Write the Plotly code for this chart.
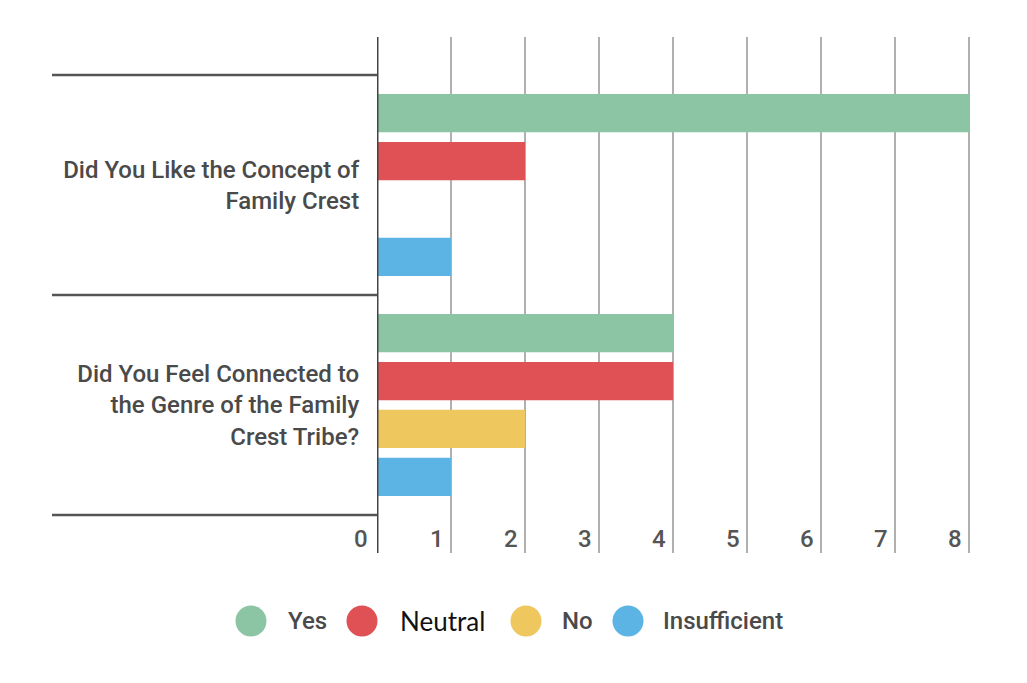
import plotly.graph_objects as go

# ---------------- data ----------------
categories = [
    "Did You Like the Concept of<br>Family Crest",
    "Did You Feel Connected to<br>the Genre of the Family<br>Crest Tribe?",
]
series_names = ["Yes", "Neutral", "No", "Insufficient"]
yes_vals = [8, 4]
neutral_vals = [2, 4]
no_vals = [0, 2]
insufficient_vals = [1, 1]
x_ticks = [0, 1, 2, 3, 4, 5, 6, 7, 8]

# ---------------- style ----------------
colors = ["#8BC5A4", "#DF5154", "#EFC75F", "#5CB4E5"]
values = [yes_vals, neutral_vals, no_vals, insufficient_vals]

W, H = 1027, 683
L, R, T, B = 377, 52, 37, 130
pw, ph = W - L - R, H - T - B

fig = go.Figure()
for name, vals, col in zip(series_names, values, colors):
    fig.add_trace(go.Bar(
        y=categories, x=vals, name=name, orientation="h",
        marker=dict(color=col, line=dict(width=0)),
        showlegend=False, hoverinfo="x+name",
    ))

# y range in category units so that boundaries fall at the separator lines
ext = 38 / 220
fig.update_layout(
    width=W, height=H,
    margin=dict(l=L, r=R, t=T, b=B, pad=0),
    paper_bgcolor="white", plot_bgcolor="white",
    barmode="group", bargap=0.13, bargroupgap=0.2,
    font=dict(family="Roboto", color="#4a4a4a"),
    xaxis=dict(
        range=[0, 8.08], tickvals=x_ticks, showticklabels=False,
        showgrid=True, gridcolor="#b0b0b0", gridwidth=1.5,
        zeroline=False, showline=False, ticks="", fixedrange=True,
    ),
    yaxis=dict(
        range=[1.5 + ext, -0.5 - ext], type="category",
        showgrid=False, zeroline=False,
        showline=False, ticks="outside", ticklen=12, tickcolor="rgba(0,0,0,0)",
        tickfont=dict(size=24, color="#4a4a4a", family="Roboto", weight=500),
        fixedrange=True,
    ),
)

shapes = []
# y-axis line (value 0)
shapes.append(dict(type="line", xref="x", yref="paper", x0=0, x1=0, y0=0, y1=1,
                   line=dict(color="#444444", width=3)))
# category separator lines extending left of the axis
x_left = (52 - L) / pw
for b in [-0.5, 0.5, 1.5]:
    shapes.append(dict(type="line", xref="paper", yref="y", x0=x_left, x1=0, y0=b, y1=b,
                       line=dict(color="#555555", width=2.5)))

annotations = []
# x tick labels placed just left of each gridline near the bottom
for v in x_ticks:
    annotations.append(dict(
        x=v, y=(H - B - 539) / ph, xref="x", yref="paper",
        text=str(v), showarrow=False, xanchor="right", yanchor="middle",
        xshift=-5 if v > 0 else -7,
        font=dict(size=24, color="#555555", family="Roboto", weight=500),
    ))

# custom legend with large circles
legend_cx = [251, 362, 526, 628]
legend_y = (H - B - 621) / ph
text_off = [35, 36, 34, 33]
for name, col, cx, off in zip(series_names, colors, legend_cx, text_off):
    xp = (cx - L) / pw
    shapes.append(dict(type="circle", xref="paper", yref="paper",
                       xsizemode="pixel", ysizemode="pixel",
                       xanchor=xp, yanchor=legend_y,
                       x0=-15.5, x1=15.5, y0=-15.5, y1=15.5,
                       fillcolor=col, line=dict(width=0)))
    is_neutral = name == "Neutral"
    annotations.append(dict(
        x=(cx + off - L) / pw, y=legend_y, xref="paper", yref="paper",
        text=name, showarrow=False, xanchor="left", yanchor="middle",
        font=dict(size=26 if is_neutral else 24,
                  color="#111111" if is_neutral else "#4a4a4a",
                  family="Lato" if is_neutral else "Roboto",
                  weight=400 if is_neutral else 500),
    ))

fig.update_layout(shapes=shapes, annotations=annotations)
fig.write_html("out.html", config={"displayModeBar": False})
